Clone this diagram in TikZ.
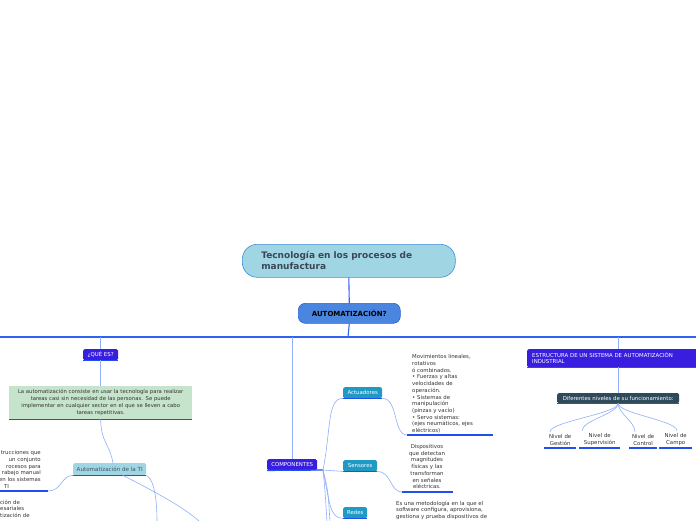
\documentclass[tikz,border=0pt]{standalone}
\usepackage{fontspec}
\setmainfont{DejaVu Sans}
\usetikzlibrary{calc}
\definecolor{trunkblue}{HTML}{2F62F0}
\definecolor{linkblue}{HTML}{8FAFF7}
\definecolor{barblue}{HTML}{1F4FEF}
\definecolor{skyfill}{HTML}{A0D5E3}
\definecolor{skyline}{HTML}{3F8FD8}
\definecolor{autofill}{HTML}{4A86DF}
\definecolor{autoline}{HTML}{2A63D8}
\definecolor{violetfill}{HTML}{3A1EE0}
\definecolor{tealfill}{HTML}{1E9AC4}
\definecolor{slatefill}{HTML}{2F4B5B}
\definecolor{greenfill}{HTML}{C6E4CB}
\definecolor{inkgrey}{HTML}{333333}
\definecolor{titleink}{HTML}{3A4756}
\definecolor{tiink}{HTML}{3D5567}
\newcommand{\nodebar}[1]{\draw[bar] (#1.south west) -- (#1.south east);}

\tikzset{
  trunk/.style={draw=trunkblue, line width=1.1pt},
  link/.style={draw=linkblue, line width=0.6pt},
  bar/.style={draw=barblue, line width=1.3pt},
  small/.style={font=\fontsize{5.4}{6.7}\selectfont, text=inkgrey, inner sep=0pt},
  title/.style={fill=skyfill, draw=skyline, line width=0.6pt, rounded corners=15pt,
    minimum width=213pt, minimum height=33pt, text width=175pt, inner xsep=19pt,
    inner ysep=0pt, align=left, font=\bfseries\fontsize{9}{11}\selectfont, text=titleink},
  autobox/.style={fill=autofill, draw=autoline, line width=0.6pt, rounded corners=7pt,
    font=\bfseries\fontsize{7}{8}\selectfont, inner sep=0pt},
  violetbox/.style={fill=violetfill, text=white, rounded corners=1.5pt,
    font=\fontsize{5.4}{6.2}\selectfont, inner sep=0pt},
  tealbox/.style={fill=tealfill, text=white, rounded corners=1.5pt,
    font=\fontsize{5.4}{6}\selectfont, inner sep=0pt, minimum height=11pt},
  skybox/.style={fill=skyfill, text=tiink, rounded corners=1.5pt,
    font=\fontsize{5.6}{6}\selectfont, inner sep=0pt},
  slatebox/.style={fill=slatefill, text=white, rounded corners=1.5pt,
    font=\fontsize{5.4}{6}\selectfont, inner sep=0pt},
  greenbox/.style={fill=greenfill, text=inkgrey, align=center, inner sep=0pt,
    font=\fontsize{5.3}{7}\selectfont},
  level/.style={small, inner ysep=2.5pt, align=center},
}

\begin{document}
\begin{tikzpicture}[x=1pt, y=-1pt]
    \useasboundingbox (0,0) rectangle (696,520);
    \clip (0,0) rectangle (696,520);

    % main topic
    \node[title, anchor=north west] (topic) at (242,244) {Tecnología en los procesos de\\manufactura};
    \node[autobox, anchor=north west, minimum width=102pt, minimum height=20pt] (auto) at (298,303) {AUTOMATIZACIÓN?};
    \coordinate (hub) at (348,337);
    \coordinate (westEnd) at (0,337);
    \coordinate (eastEnd) at (696,337);
    \draw[trunk] (topic.south) -- (auto.north);
    \draw[trunk] (auto.south) -- (hub);
    \draw[trunk] (westEnd) -- (eastEnd);

    % branch 1: que es
    \node[violetbox, anchor=north west, minimum width=35pt, minimum height=11pt] (quees) at (83,349) {¿QUÉ ES?};
    \nodebar{quees}
    \draw[link] (quees.north |- hub) -- (quees.north);
    \node[greenbox, anchor=north west, minimum width=183pt, minimum height=33pt, text width=183pt] (define) at (9,386)
        {La automatización consiste en usar la tecnología para realizar\\tareas casi sin necesidad de las personas. Se puede\\implementar en cualquier sector en el que se lleven a cabo\\tareas repetitivas.};
    \nodebar{define}
    \draw[link] (quees.south) -- (define.north);
    \node[skybox, anchor=north west, minimum width=73pt, minimum height=12pt] (autoti) at (73,463) {Automatización de la TI};
    \nodebar{autoti}
    \draw[link] (define.south) .. controls +(0,22) and +(-3,-18) .. ($(autoti.north west)+(40,0)$);
    \node[small, anchor=north east, align=right] (tidesc) at (41,450.5)
        {trucciones que\\un conjunto\\rocesos para\\rabajo manual\\en los sistemas};
    \node[small, anchor=north west] (tidescend) at (4,484.5) {TI};
    \coordinate (tibarL) at (0,491);
    \coordinate (tibarR) at (48,491);
    \draw[bar] (tibarL) -- (tibarR);
    \draw[link] (tibarR) .. controls +(14,0) and +(-12,0) .. (autoti.south west);
    \node[small, anchor=north west, align=left] (tiuses) at (0,499.5) {ción de\\esariales\\tización de};
    \coordinate (tiDownA) at (157,522);
    \coordinate (tiDownB) at (200,522);
    \draw[link] (autoti.south east) .. controls +(8,4) and +(0,-22) .. (tiDownA);
    \draw[link] ($(autoti.south west)+(50,0)$) .. controls +(35,18) and +(-15,-14) .. (tiDownB);

    % branch 2: componentes
    \node[violetbox, anchor=north west, minimum width=50pt, minimum height=11pt] (comp) at (267,459) {COMPONENTES};
    \coordinate (compEnd) at (323,470);
    \draw[bar] (comp.south west) -- (compEnd);
    \draw[link] (comp.north |- hub) -- (comp.north);
    % actuadores
    \node[tealbox, anchor=north west, minimum width=39pt] (actu) at (343,387) {Actuadores};
    \nodebar{actu}
    \draw[link] (compEnd) .. controls (331,430) and (327,398) .. (actu.south west);
    \node[small, anchor=north west, align=left] (actudesc) at (412,354.5)
        {Movimientos lineales,\\rotativos\\ó combinados.\\• Fuerzas y altas\\velocidades de\\operación.\\• Sistemas de\\manipulación\\(pinzas y vacío)\\• Servo sistemas:\\(ejes neumáticos, ejes\\eléctricos)};
    \coordinate (actubarL) at (407,435);
    \coordinate (actubarR) at (493,435);
    \draw[bar] (actubarL) -- (actubarR);
    \draw[link] (actu.south east) .. controls +(16,0) and +(-14,0) .. (actubarL);
    % sensores
    \node[tealbox, anchor=north west, minimum width=34pt] (sens) at (343,460) {Sensores};
    \nodebar{sens}
    \draw[link] (compEnd) .. controls +(10,0) and +(-10,0) .. (sens.south west);
    \node[small, anchor=south, align=center] (sensdesc) at (427,489)
        {Dispositivos\\que detectan\\magnitudes\\físicas y las\\transforman\\en señales\\eléctricas.};
    \coordinate (sensbarL) at (402,492);
    \coordinate (sensbarR) at (453,492);
    \draw[bar] (sensbarL) -- (sensbarR);
    \draw[link] (sens.south east) .. controls +(14,0) and +(-12,0) .. (sensbarL);
    % redes
    \node[tealbox, anchor=north west, minimum width=24pt] (redes) at (343,507) {Redes};
    \nodebar{redes}
    \draw[link] (compEnd) .. controls (330,505) and (330,518) .. (redes.south west);
    \node[small, anchor=north west, align=left] (redesdesc) at (396,500.5)
        {Es una metodología en la que el\\software configura, aprovisiona,\\gestiona y prueba dispositivos de};
    \coordinate (compDownA) at (327,522);
    \coordinate (compDownB) at (330,522);
    \draw[link] (compEnd) .. controls +(2,20) .. (compDownA);
    \draw[link] (compEnd) .. controls +(5,20) .. (compDownB);

    % branch 3: estructura
    \node[violetbox, anchor=north west, minimum width=180pt, minimum height=18pt, text width=170pt,
        inner xsep=4pt, align=left] (estr) at (527,349) {ESTRUCTURA DE UN SISTEMA DE AUTOMATIZACIÓN\\INDUSTRIAL};
    \nodebar{estr}
    \coordinate (estrTop) at (618,349);
    \draw[link] (estrTop |- hub) -- (estrTop);
    \node[slatebox, anchor=north west, minimum width=122pt, minimum height=10pt] (niveles) at (557,393) {Diferentes niveles de su funcionamiento:};
    \nodebar{niveles}
    \draw[link] (estr.south -| niveles.north) -- (niveles.north);
    % levels
    \node[level, anchor=south west, text width=32pt] (gest) at (544,448) {Nivel de\\Gestión};
    \node[level, anchor=south west, text width=41pt] (sup) at (579,448) {Nivel de\\Supervisión};
    \node[level, anchor=south west, text width=28pt] (ctrl) at (629,448) {Nivel de\\Control};
    \node[level, anchor=south west, text width=33pt] (campo) at (659,448) {Nivel de\\Campo};
    \foreach \n/\dx in {gest/6, sup/3, ctrl/6, campo/18}
    {
        \nodebar{\n}
        \draw[link] (niveles.south) .. controls +(0,10) and +(0,-10) .. ($(\n.north west)+(\dx,0)$);
    }
\end{tikzpicture}
\end{document}
